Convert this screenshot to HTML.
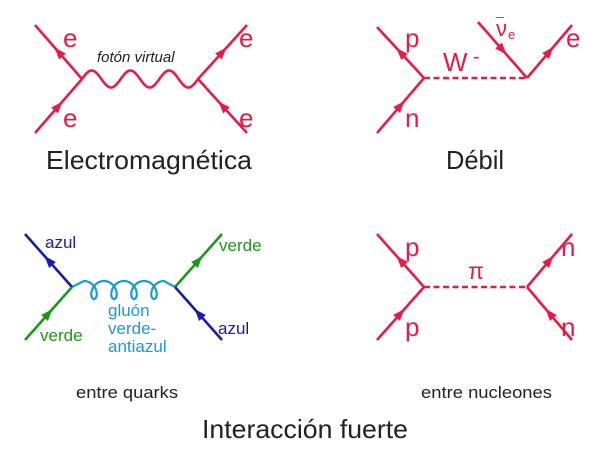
<!DOCTYPE html>
<html><head><meta charset="utf-8"><style>
body{margin:0;background:#fff}
svg{display:block}
text{font-family:"Liberation Sans",sans-serif}
</style></head><body>
<svg id="s" width="601" height="454" viewBox="0 0 601 454" xmlns="http://www.w3.org/2000/svg">
<g stroke-width="2.6" fill="none" id="lines">
<path id="wave" stroke="#ea1a44" d=""/>
<line x1="424" y1="78" x2="527" y2="78" stroke="#ea1a44" stroke-dasharray="6,3.5"/>
<line x1="424" y1="287" x2="527" y2="287" stroke="#ea1a44" stroke-dasharray="6,3.5"/>
<path id="glu" stroke="#1a9ad2" stroke-width="2.2" d=""/>
</g>
<g id="arrows"></g>
<g fill="#ea1a44" font-size="26">
<text x="63" y="47">e</text><text x="63" y="127">e</text>
<text x="239" y="47">e</text><text x="239" y="127">e</text>
<text x="405" y="47">p</text><text x="405" y="127">n</text>
<text x="443" y="71">W</text><text x="473" y="63" font-size="20">-</text>
<text x="496" y="36" font-size="22">ν</text><text x="496" y="15" font-size="14">_</text><text x="508" y="39" font-size="13">e</text>
<text x="566" y="47">e</text>
<text x="468" y="279" font-size="23">π</text>
<text x="405" y="256">p</text><text x="405" y="336">p</text>
<text x="561" y="256">n</text><text x="561" y="336">n</text>
</g>
<text x="97" y="62" font-family="Liberation Serif" font-style="italic" font-size="15" fill="#222">fotón virtual</text>
<g fill="#222" font-size="26">
<text x="46" y="169" textLength="206" lengthAdjust="spacingAndGlyphs">Electromagnética</text>
<text x="446" y="169" textLength="58" lengthAdjust="spacingAndGlyphs">Débil</text>
<text x="202" y="438" textLength="206" lengthAdjust="spacingAndGlyphs">Interacción fuerte</text>
</g>
<g fill="#222" font-size="17">
<text x="76" y="398" textLength="102" lengthAdjust="spacingAndGlyphs">entre quarks</text>
<text x="421" y="398" textLength="131" lengthAdjust="spacingAndGlyphs">entre nucleones</text>
</g>
<g font-size="17">
<text x="45" y="248" fill="#1a1ab0">azul</text>
<text x="40" y="341" fill="#1a981a">verde</text>
<text x="219" y="251" fill="#1a981a">verde</text>
<text x="218" y="334" fill="#1a1ab0">azul</text>
<g fill="#1a9ad2"><text x="108" y="316">gluón</text><text x="108" y="334">verde-</text><text x="108" y="352">antiazul</text></g>
</g>
</svg>
<script>
var NS="http://www.w3.org/2000/svg";
var R="#ea1a44",B="#1a1ab0",G="#1a981a";
var L=document.getElementById("lines"),A=document.getElementById("arrows");
function ln(x1,y1,x2,y2,c){var l=document.createElementNS(NS,"line");l.setAttribute("x1",x1);l.setAttribute("y1",y1);l.setAttribute("x2",x2);l.setAttribute("y2",y2);l.setAttribute("stroke",c);L.appendChild(l);
var mx=(x1+x2)/2,my=(y1+y2)/2,dx=x2-x1,dy=y2-y1,n=Math.hypot(dx,dy);dx/=n;dy/=n;var px=-dy,py=dx;
var tip=[mx+dx*6,my+dy*6],b1=[mx-dx*6+px*4.5,my-dy*6+py*4.5],b2=[mx-dx*6-px*4.5,my-dy*6-py*4.5];
var p=document.createElementNS(NS,"polygon");p.setAttribute("points",tip+" "+b1+" "+b2);p.setAttribute("fill",c);A.appendChild(p);}
ln(82,79,35,25,R);ln(35,133,82,79,R);ln(198,79,247,25,R);ln(247,133,198,79,R);
ln(424,78,377,27,R);ln(377,133,424,78,R);ln(478,22,527,78,R);ln(527,78,572,25,R);
ln(424,287,377,234,R);ln(377,340,424,287,R);ln(527,287,572,234,R);ln(572,340,527,287,R);
ln(72,287,25,234,B);ln(25,340,72,287,G);ln(175,287,222,234,G);ln(222,340,175,287,B);
var d="";for(var i=0;i<=300;i++){var u=i/300;var x=82+116*u,y=79-8.5*Math.sin(2*Math.PI*3*u);d+=(i?"L":"M")+x.toFixed(2)+","+y.toFixed(2);}
document.getElementById("wave").setAttribute("d",d);
var g="M72,287";for(var i=0;i<=400;i++){var u=i/400;var x=84+80*u+7*Math.sin(2*Math.PI*4*u),y=290-9*Math.cos(2*Math.PI*4*u);g+="L"+x.toFixed(2)+","+y.toFixed(2);}g+="L175,287";
document.getElementById("glu").setAttribute("d",g);
</script>
</body></html>
